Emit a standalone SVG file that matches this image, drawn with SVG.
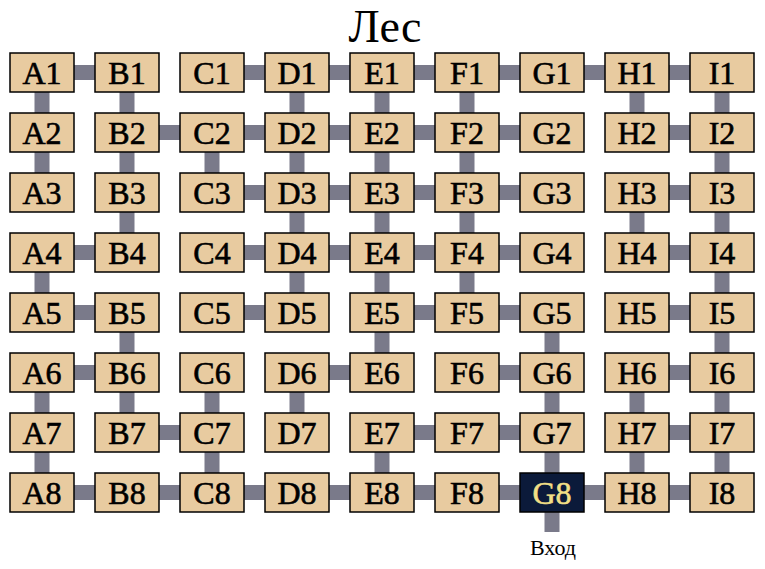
<svg xmlns="http://www.w3.org/2000/svg" width="765" height="569" viewBox="0 0 765 569">
<style>
.bg{fill:#ffffff}
.c{stroke:#7a7a8a;stroke-width:15;fill:none}
.n rect{fill:#e8cba0;stroke:#000;stroke-width:1.5}
.n text{font-family:"Liberation Serif","DejaVu Serif",serif;font-size:32px;fill:#000;stroke:#000;stroke-width:0.6;text-anchor:middle}
.n.entry rect{fill:#0b1a3a}
.n.entry text{fill:#f2df86;stroke:#f2df86}
.t{font-family:"Liberation Serif","DejaVu Serif",serif;fill:#000;text-anchor:middle}
</style>
<rect class="bg" x="0" y="0" width="765" height="569"/>
<text class="t" x="385" y="42" font-size="46">Лес</text>
<g id="connectors">
<!-- row 1 -->
<line class="c" x1="42" y1="72.5" x2="127" y2="72.5"/>
<line class="c" x1="212" y1="72.5" x2="297" y2="72.5"/>
<line class="c" x1="297" y1="72.5" x2="382" y2="72.5"/>
<line class="c" x1="382" y1="72.5" x2="467" y2="72.5"/>
<line class="c" x1="467" y1="72.5" x2="552" y2="72.5"/>
<line class="c" x1="552" y1="72.5" x2="637" y2="72.5"/>
<line class="c" x1="637" y1="72.5" x2="722" y2="72.5"/>
<!-- row 2 -->
<line class="c" x1="127" y1="132.5" x2="212" y2="132.5"/>
<line class="c" x1="212" y1="132.5" x2="297" y2="132.5"/>
<line class="c" x1="297" y1="132.5" x2="382" y2="132.5"/>
<line class="c" x1="382" y1="132.5" x2="467" y2="132.5"/>
<line class="c" x1="467" y1="132.5" x2="552" y2="132.5"/>
<line class="c" x1="637" y1="132.5" x2="722" y2="132.5"/>
<!-- row 3 -->
<line class="c" x1="212" y1="192.5" x2="297" y2="192.5"/>
<line class="c" x1="297" y1="192.5" x2="382" y2="192.5"/>
<line class="c" x1="382" y1="192.5" x2="467" y2="192.5"/>
<line class="c" x1="467" y1="192.5" x2="552" y2="192.5"/>
<line class="c" x1="637" y1="192.5" x2="722" y2="192.5"/>
<!-- row 4 -->
<line class="c" x1="42" y1="252.5" x2="127" y2="252.5"/>
<line class="c" x1="212" y1="252.5" x2="297" y2="252.5"/>
<line class="c" x1="297" y1="252.5" x2="382" y2="252.5"/>
<line class="c" x1="382" y1="252.5" x2="467" y2="252.5"/>
<line class="c" x1="467" y1="252.5" x2="552" y2="252.5"/>
<line class="c" x1="637" y1="252.5" x2="722" y2="252.5"/>
<!-- row 5 -->
<line class="c" x1="42" y1="312.5" x2="127" y2="312.5"/>
<line class="c" x1="212" y1="312.5" x2="297" y2="312.5"/>
<line class="c" x1="382" y1="312.5" x2="467" y2="312.5"/>
<line class="c" x1="467" y1="312.5" x2="552" y2="312.5"/>
<line class="c" x1="637" y1="312.5" x2="722" y2="312.5"/>
<!-- row 6 -->
<line class="c" x1="42" y1="372.5" x2="127" y2="372.5"/>
<line class="c" x1="297" y1="372.5" x2="382" y2="372.5"/>
<line class="c" x1="467" y1="372.5" x2="552" y2="372.5"/>
<line class="c" x1="637" y1="372.5" x2="722" y2="372.5"/>
<!-- row 7 -->
<line class="c" x1="127" y1="432.5" x2="212" y2="432.5"/>
<line class="c" x1="382" y1="432.5" x2="467" y2="432.5"/>
<line class="c" x1="467" y1="432.5" x2="552" y2="432.5"/>
<line class="c" x1="637" y1="432.5" x2="722" y2="432.5"/>
<!-- row 8 -->
<line class="c" x1="42" y1="492.5" x2="722" y2="492.5"/>
<!-- column A -->
<line class="c" x1="42" y1="72.5" x2="42" y2="192.5"/>
<line class="c" x1="42" y1="252.5" x2="42" y2="312.5"/>
<line class="c" x1="42" y1="372.5" x2="42" y2="492.5"/>
<!-- column B -->
<line class="c" x1="127" y1="72.5" x2="127" y2="252.5"/>
<line class="c" x1="127" y1="312.5" x2="127" y2="432.5"/>
<!-- column C -->
<line class="c" x1="212" y1="132.5" x2="212" y2="192.5"/>
<line class="c" x1="212" y1="372.5" x2="212" y2="492.5"/>
<!-- column D -->
<line class="c" x1="297" y1="72.5" x2="297" y2="312.5"/>
<line class="c" x1="297" y1="372.5" x2="297" y2="432.5"/>
<!-- column E -->
<line class="c" x1="382" y1="72.5" x2="382" y2="372.5"/>
<line class="c" x1="382" y1="432.5" x2="382" y2="492.5"/>
<!-- column F -->
<line class="c" x1="467" y1="72.5" x2="467" y2="312.5"/>
<!-- column G -->
<line class="c" x1="552" y1="312.5" x2="552" y2="532"/>
<!-- column H -->
<line class="c" x1="637" y1="72.5" x2="637" y2="132.5"/>
<line class="c" x1="637" y1="192.5" x2="637" y2="252.5"/>
<line class="c" x1="637" y1="372.5" x2="637" y2="492.5"/>
<!-- column I -->
<line class="c" x1="722" y1="72.5" x2="722" y2="492.5"/>
</g>
<g id="A1" class="n"><rect x="10" y="53" width="64" height="39"/><text x="42" y="83.5">A1</text></g>
<g id="B1" class="n"><rect x="95" y="53" width="64" height="39"/><text x="127" y="83.5">B1</text></g>
<g id="C1" class="n"><rect x="180" y="53" width="64" height="39"/><text x="212" y="83.5">C1</text></g>
<g id="D1" class="n"><rect x="265" y="53" width="64" height="39"/><text x="297" y="83.5">D1</text></g>
<g id="E1" class="n"><rect x="350" y="53" width="64" height="39"/><text x="382" y="83.5">E1</text></g>
<g id="F1" class="n"><rect x="435" y="53" width="64" height="39"/><text x="467" y="83.5">F1</text></g>
<g id="G1" class="n"><rect x="520" y="53" width="64" height="39"/><text x="552" y="83.5">G1</text></g>
<g id="H1" class="n"><rect x="605" y="53" width="64" height="39"/><text x="637" y="83.5">H1</text></g>
<g id="I1" class="n"><rect x="690" y="53" width="64" height="39"/><text x="722" y="83.5">I1</text></g>
<g id="A2" class="n"><rect x="10" y="113" width="64" height="39"/><text x="42" y="143.5">A2</text></g>
<g id="B2" class="n"><rect x="95" y="113" width="64" height="39"/><text x="127" y="143.5">B2</text></g>
<g id="C2" class="n"><rect x="180" y="113" width="64" height="39"/><text x="212" y="143.5">C2</text></g>
<g id="D2" class="n"><rect x="265" y="113" width="64" height="39"/><text x="297" y="143.5">D2</text></g>
<g id="E2" class="n"><rect x="350" y="113" width="64" height="39"/><text x="382" y="143.5">E2</text></g>
<g id="F2" class="n"><rect x="435" y="113" width="64" height="39"/><text x="467" y="143.5">F2</text></g>
<g id="G2" class="n"><rect x="520" y="113" width="64" height="39"/><text x="552" y="143.5">G2</text></g>
<g id="H2" class="n"><rect x="605" y="113" width="64" height="39"/><text x="637" y="143.5">H2</text></g>
<g id="I2" class="n"><rect x="690" y="113" width="64" height="39"/><text x="722" y="143.5">I2</text></g>
<g id="A3" class="n"><rect x="10" y="173" width="64" height="39"/><text x="42" y="203.5">A3</text></g>
<g id="B3" class="n"><rect x="95" y="173" width="64" height="39"/><text x="127" y="203.5">B3</text></g>
<g id="C3" class="n"><rect x="180" y="173" width="64" height="39"/><text x="212" y="203.5">C3</text></g>
<g id="D3" class="n"><rect x="265" y="173" width="64" height="39"/><text x="297" y="203.5">D3</text></g>
<g id="E3" class="n"><rect x="350" y="173" width="64" height="39"/><text x="382" y="203.5">E3</text></g>
<g id="F3" class="n"><rect x="435" y="173" width="64" height="39"/><text x="467" y="203.5">F3</text></g>
<g id="G3" class="n"><rect x="520" y="173" width="64" height="39"/><text x="552" y="203.5">G3</text></g>
<g id="H3" class="n"><rect x="605" y="173" width="64" height="39"/><text x="637" y="203.5">H3</text></g>
<g id="I3" class="n"><rect x="690" y="173" width="64" height="39"/><text x="722" y="203.5">I3</text></g>
<g id="A4" class="n"><rect x="10" y="233" width="64" height="39"/><text x="42" y="263.5">A4</text></g>
<g id="B4" class="n"><rect x="95" y="233" width="64" height="39"/><text x="127" y="263.5">B4</text></g>
<g id="C4" class="n"><rect x="180" y="233" width="64" height="39"/><text x="212" y="263.5">C4</text></g>
<g id="D4" class="n"><rect x="265" y="233" width="64" height="39"/><text x="297" y="263.5">D4</text></g>
<g id="E4" class="n"><rect x="350" y="233" width="64" height="39"/><text x="382" y="263.5">E4</text></g>
<g id="F4" class="n"><rect x="435" y="233" width="64" height="39"/><text x="467" y="263.5">F4</text></g>
<g id="G4" class="n"><rect x="520" y="233" width="64" height="39"/><text x="552" y="263.5">G4</text></g>
<g id="H4" class="n"><rect x="605" y="233" width="64" height="39"/><text x="637" y="263.5">H4</text></g>
<g id="I4" class="n"><rect x="690" y="233" width="64" height="39"/><text x="722" y="263.5">I4</text></g>
<g id="A5" class="n"><rect x="10" y="293" width="64" height="39"/><text x="42" y="323.5">A5</text></g>
<g id="B5" class="n"><rect x="95" y="293" width="64" height="39"/><text x="127" y="323.5">B5</text></g>
<g id="C5" class="n"><rect x="180" y="293" width="64" height="39"/><text x="212" y="323.5">C5</text></g>
<g id="D5" class="n"><rect x="265" y="293" width="64" height="39"/><text x="297" y="323.5">D5</text></g>
<g id="E5" class="n"><rect x="350" y="293" width="64" height="39"/><text x="382" y="323.5">E5</text></g>
<g id="F5" class="n"><rect x="435" y="293" width="64" height="39"/><text x="467" y="323.5">F5</text></g>
<g id="G5" class="n"><rect x="520" y="293" width="64" height="39"/><text x="552" y="323.5">G5</text></g>
<g id="H5" class="n"><rect x="605" y="293" width="64" height="39"/><text x="637" y="323.5">H5</text></g>
<g id="I5" class="n"><rect x="690" y="293" width="64" height="39"/><text x="722" y="323.5">I5</text></g>
<g id="A6" class="n"><rect x="10" y="353" width="64" height="39"/><text x="42" y="383.5">A6</text></g>
<g id="B6" class="n"><rect x="95" y="353" width="64" height="39"/><text x="127" y="383.5">B6</text></g>
<g id="C6" class="n"><rect x="180" y="353" width="64" height="39"/><text x="212" y="383.5">C6</text></g>
<g id="D6" class="n"><rect x="265" y="353" width="64" height="39"/><text x="297" y="383.5">D6</text></g>
<g id="E6" class="n"><rect x="350" y="353" width="64" height="39"/><text x="382" y="383.5">E6</text></g>
<g id="F6" class="n"><rect x="435" y="353" width="64" height="39"/><text x="467" y="383.5">F6</text></g>
<g id="G6" class="n"><rect x="520" y="353" width="64" height="39"/><text x="552" y="383.5">G6</text></g>
<g id="H6" class="n"><rect x="605" y="353" width="64" height="39"/><text x="637" y="383.5">H6</text></g>
<g id="I6" class="n"><rect x="690" y="353" width="64" height="39"/><text x="722" y="383.5">I6</text></g>
<g id="A7" class="n"><rect x="10" y="413" width="64" height="39"/><text x="42" y="443.5">A7</text></g>
<g id="B7" class="n"><rect x="95" y="413" width="64" height="39"/><text x="127" y="443.5">B7</text></g>
<g id="C7" class="n"><rect x="180" y="413" width="64" height="39"/><text x="212" y="443.5">C7</text></g>
<g id="D7" class="n"><rect x="265" y="413" width="64" height="39"/><text x="297" y="443.5">D7</text></g>
<g id="E7" class="n"><rect x="350" y="413" width="64" height="39"/><text x="382" y="443.5">E7</text></g>
<g id="F7" class="n"><rect x="435" y="413" width="64" height="39"/><text x="467" y="443.5">F7</text></g>
<g id="G7" class="n"><rect x="520" y="413" width="64" height="39"/><text x="552" y="443.5">G7</text></g>
<g id="H7" class="n"><rect x="605" y="413" width="64" height="39"/><text x="637" y="443.5">H7</text></g>
<g id="I7" class="n"><rect x="690" y="413" width="64" height="39"/><text x="722" y="443.5">I7</text></g>
<g id="A8" class="n"><rect x="10" y="473" width="64" height="39"/><text x="42" y="503.5">A8</text></g>
<g id="B8" class="n"><rect x="95" y="473" width="64" height="39"/><text x="127" y="503.5">B8</text></g>
<g id="C8" class="n"><rect x="180" y="473" width="64" height="39"/><text x="212" y="503.5">C8</text></g>
<g id="D8" class="n"><rect x="265" y="473" width="64" height="39"/><text x="297" y="503.5">D8</text></g>
<g id="E8" class="n"><rect x="350" y="473" width="64" height="39"/><text x="382" y="503.5">E8</text></g>
<g id="F8" class="n"><rect x="435" y="473" width="64" height="39"/><text x="467" y="503.5">F8</text></g>
<g id="G8" class="n entry"><rect x="520" y="473" width="64" height="39"/><text x="552" y="503.5">G8</text></g>
<g id="H8" class="n"><rect x="605" y="473" width="64" height="39"/><text x="637" y="503.5">H8</text></g>
<g id="I8" class="n"><rect x="690" y="473" width="64" height="39"/><text x="722" y="503.5">I8</text></g>
<text class="t" x="553" y="555" font-size="22">Вход</text>
</svg>
